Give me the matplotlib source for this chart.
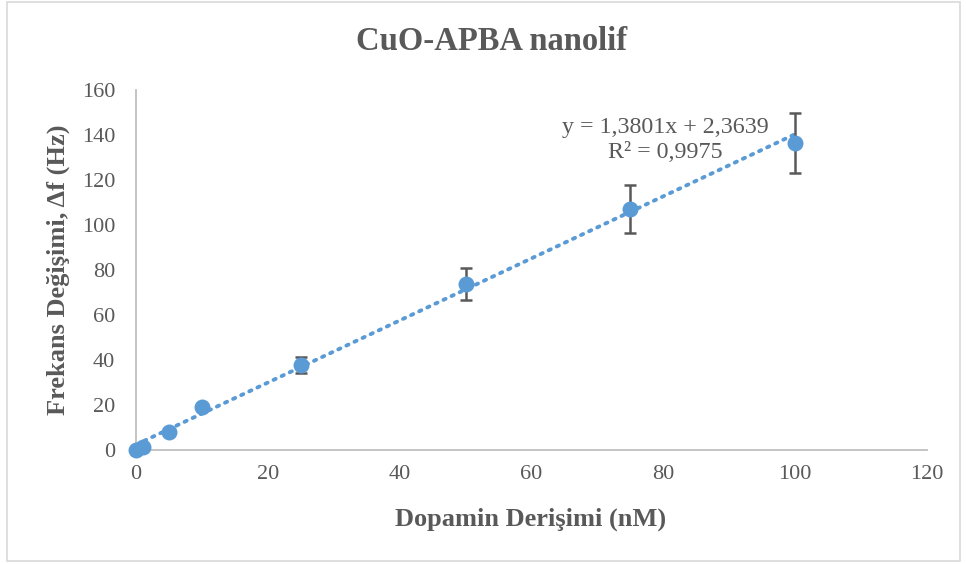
import matplotlib
matplotlib.use("Agg")
import matplotlib.pyplot as plt
import numpy as np
from matplotlib.patches import Rectangle

concentration = [0, 1, 5, 10, 25, 50, 75, 100]
delta_f = [0.0, 1.2, 8.0, 19.0, 37.8, 73.8, 107.2, 136.6]
errors = [0.2, 0.3, 0.5, 0.6, 3.7, 7.1, 10.7, 13.4]
slope, intercept = 1.3801, 2.3639
eq_text = "y = 1,3801x + 2,3639"
r2_text = "R² = 0,9975"
title = "CuO-APBA nanolif"
xlabel = "Dopamin Derişimi (nM)"
ylabel = "Frekans Değişimi, Δf (Hz)"

blue = "#5B9BD5"
gray_text = "#595959"
serif = ["Liberation Serif", "DejaVu Serif"]

fig = plt.figure(figsize=(9.66, 5.64), dpi=100)
fig.patch.set_facecolor("white")
fig.patches.append(Rectangle((7/966, 1-561/564), (960-7)/966, (561-2)/564,
                             transform=fig.transFigure, fill=False,
                             edgecolor="#D9D9D9", linewidth=1.2))

ax = fig.add_axes([136/966, 1-450/564, (927-136)/966, (450-90)/564])
ax.set_xlim(0, 120)
ax.set_ylim(0, 160)

xs = np.array([0, 100])
ax.plot(xs, slope*xs + intercept, linestyle=(0, (0.6, 1.7)), color=blue,
        linewidth=2.8, dash_capstyle="round", zorder=2)
ax.errorbar(concentration, delta_f, yerr=errors, fmt="none", ecolor="#595959",
            elinewidth=1.8, capsize=4.5, capthick=1.8, zorder=3)
ax.plot(concentration, delta_f, "o", color=blue, markersize=11.5, zorder=4,
        markeredgewidth=0, clip_on=False)

ax.set_xticks(np.arange(0, 121, 20))
ax.set_yticks(np.arange(0, 161, 20))
ax.tick_params(length=0, labelsize=16, labelcolor=gray_text)
ax.tick_params(axis="x", pad=11)
ax.tick_params(axis="y", pad=15)
for lab in ax.get_xticklabels() + ax.get_yticklabels():
    lab.set_family(serif)
for s in ["top", "right"]:
    ax.spines[s].set_visible(False)
for s in ["left", "bottom"]:
    ax.spines[s].set_color("#BFBFBF")
    ax.spines[s].set_linewidth(1.3)

fig.text(492/966, 1-42/564, title, ha="center", va="center", fontsize=23.5,
         fontweight="bold", color=gray_text, family=serif)
fig.text(531/966, 1-519/564, xlabel, ha="center", va="center", fontsize=19,
         fontweight="bold", color=gray_text, family=serif)
fig.text(58/966, 1-270/564, ylabel, ha="center", va="center", fontsize=19,
         fontweight="bold", color=gray_text, family=serif, rotation=90)

ax.text(665/966, 1-127/564, eq_text, transform=fig.transFigure, ha="center",
        va="center", fontsize=17.3, color=gray_text, family=serif)
ax.text(665/966, 1-153/564, r2_text, transform=fig.transFigure, ha="center",
        va="center", fontsize=17.3, color=gray_text, family=serif)

fig.savefig("out.png", dpi=100)
